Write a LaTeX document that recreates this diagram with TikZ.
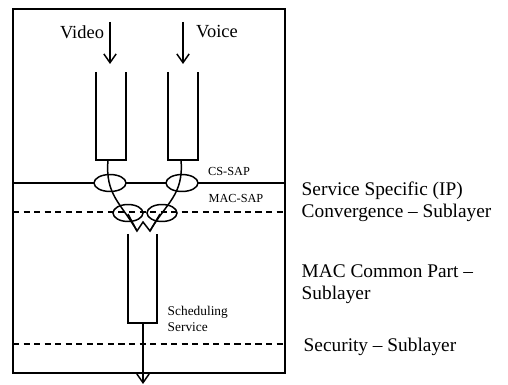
\documentclass[tikz,border=0pt]{standalone}
\usepackage{fontspec}
\setmainfont{Liberation Serif}
\usetikzlibrary{arrows.meta, shapes.geometric}

\begin{document}
\begin{tikzpicture}[x=0.02cm, y=-0.02cm, line width=0.85pt]

        % 0. Page frame (pixel units, y downwards)
        \useasboundingbox (0,0) rectangle (508,385);
        \tikzset{
          flow/.style={-{Straight Barb[length=5pt, width=7pt]}},
          border/.style={dash pattern=on 3.5pt off 2.5pt},
          sap/.style={draw, ellipse, minimum width=0.64cm, minimum height=0.34cm, inner sep=0pt},
          stream/.style={inner sep=0pt, font=\fontsize{10.5}{12}\selectfont},
          tag/.style={inner sep=0pt, font=\fontsize{7}{8.5}\selectfont},
          layer/.style={inner sep=0pt, anchor=west, align=left, font=\fontsize{11}{12.5}\selectfont}
        }

        % 1. Outer box of the MAC layer
        \draw (13,9) rectangle (285,373);

        % 2. Incoming service flows
        \node[stream] (video) at (82,32) {Video};
        \node[stream] (voice) at (217,32) {Voice};
        \coordinate (vidtop) at (110,22);
        \coordinate (vidin) at (110,64);
        \coordinate (voitop) at (183,22);
        \coordinate (voiin) at (183,64);
        \draw[flow] (vidtop) -- (vidin);
        \draw[flow] (voitop) -- (voiin);

        % Open channels for each flow
        \draw (96,72) |- (126,160) -- (126,72);
        \draw (168,72) |- (198,160) -- (198,72);
        \coordinate (vidout) at (108,160);
        \coordinate (voiout) at (181,160);

        % 3. Sublayer borders (CS-SAP solid, MAC-SAP and security dashed)
        \draw (13,183) -- (285,183);
        \draw[border] (13,212) -- (285,212);
        \draw[border] (13,344) -- (285,344);

        % Access points
        \node[sap, fill=white] (csvid) at (110,183) {};
        \node[sap, fill=white] (csvoi) at (182,183) {};
        \node[sap, minimum width=0.6cm] (macvid) at (128,213) {};
        \node[sap, minimum width=0.6cm] (macvoi) at (162,213) {};

        \node[tag] (cssap) at (229,171) {CS-SAP};
        \node[tag] (macsap) at (236,198) {MAC-SAP};

        % 4. Flows merging into the common part
        \coordinate (wl) at (137,231);
        \coordinate (wm) at (143,222);
        \coordinate (wr) at (150,231);
        \coordinate (wlt) at (128,214);
        \coordinate (wrt) at (160,214);
        \draw (vidout) .. controls (105,195) and (121,203) .. (wl);
        \draw (voiout) .. controls (184,195) and (166,203) .. (wr);
        \draw (wlt) -- (wl) -- (wm) -- (wr) -- (wrt);

        % Common part channel and scheduler output
        \draw (128,234) |- (157,323) -- (157,234);
        \node[tag, anchor=west, align=left, font=\fontsize{7.6}{9}\selectfont] (sched) at (167,319) {Scheduling\\Service};
        \coordinate (schedout) at (143,323);
        \coordinate (exit) at (143,384);
        \draw[flow] (schedout) -- (exit);

        % 5. Sublayer names
        \node[layer] (cslayer) at (301,202) {Service Specific (IP)\\Convergence -- Sublayer};
        \node[layer] (cplayer) at (301,284) {MAC Common Part --\\Sublayer};
        \node[layer] (seclayer) at (303,347) {Security -- Sublayer};

\end{tikzpicture}
\end{document}
